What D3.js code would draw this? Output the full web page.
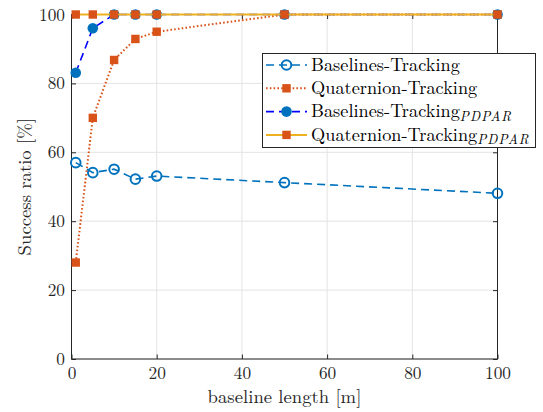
<!DOCTYPE html>
<html>
<head>
<meta charset="utf-8">
<script src="https://cdn.jsdelivr.net/npm/d3@7"></script>
<style>
  html, body { margin: 0; padding: 0; background: #fff; }
</style>
</head>
<body>
<div id="chart"></div>
<script>
// data
const baselineLen = [1, 5, 10, 15, 20, 50, 100];
const baselinesTracking = [57, 54.1, 55.1, 52.2, 53.1, 51.2, 48.1];
const quaternionTracking = [28, 70, 86.8, 92.9, 95, 100, 100];
const baselinesPdpar = [83.1, 96, 100, 100, 100, 100, 100];
const quaternionPdpar = [100, 100, 100, 100, 100, 100, 100];
const xTicks = [0, 20, 40, 60, 80, 100];
const yTicks = [0, 20, 40, 60, 80, 100];
const legendNames = ["Baselines-Tracking", "Quaternion-Tracking", "Baselines-Tracking", "Quaternion-Tracking"];
const legendSubs = ["", "", "PDPAR", "PDPAR"];

const width = 543;
const height = 412;
const plot = { left: 71.5, right: 497.5, top: 14.5, bottom: 359 };
const axisColor = "#262626";
const font = '"Latin Modern Roman", "Liberation Serif", serif';

const svg = d3
  .select("#chart")
  .append("svg")
  .attr("width", width)
  .attr("height", height);

const x = d3.scaleLinear().domain([0, 100]).range([plot.left, plot.right]);
const y = d3.scaleLinear().domain([0, 100]).range([plot.bottom, plot.top]);

// grid
svg.append("g")
  .selectAll("line")
  .data(xTicks)
  .enter()
  .append("line")
  .attr("x1", (d) => x(d)).attr("x2", (d) => x(d))
  .attr("y1", plot.top).attr("y2", plot.bottom)
  .attr("stroke", "#e3e3e3");

svg.append("g")
  .selectAll("line")
  .data(yTicks)
  .enter()
  .append("line")
  .attr("x1", plot.left).attr("x2", plot.right)
  .attr("y1", (d) => y(d)).attr("y2", (d) => y(d))
  .attr("stroke", "#e3e3e3");

// axes, ticks point inward
const styleAxis = (g) => {
  g.select(".domain").remove();
  g.selectAll(".tick line").attr("stroke", axisColor);
  g.selectAll(".tick text")
    .style("font-family", font)
    .style("font-size", "17.3px")
    .attr("fill", axisColor);
};

svg.append("g")
  .attr("transform", `translate(0,${plot.bottom})`)
  .call(d3.axisBottom(x).tickValues(xTicks).tickSize(-4.5).tickPadding(8))
  .call(styleAxis)
  .selectAll(".tick text")
  .attr("dy", "0.71em");

svg.append("g")
  .attr("transform", `translate(${plot.left},0)`)
  .call(d3.axisLeft(y).tickValues(yTicks).tickSize(-4.5).tickPadding(6.5))
  .call(styleAxis);

svg.append("g")
  .attr("transform", `translate(0,${plot.top})`)
  .call(d3.axisTop(x).tickValues(xTicks).tickSize(-4.5).tickFormat(""))
  .call(styleAxis);

svg.append("g")
  .attr("transform", `translate(${plot.right},0)`)
  .call(d3.axisRight(y).tickValues(yTicks).tickSize(-4.5).tickFormat(""))
  .call(styleAxis);

// box
svg.append("rect")
  .attr("x", plot.left).attr("y", plot.top)
  .attr("width", plot.right - plot.left).attr("height", plot.bottom - plot.top)
  .attr("fill", "none")
  .attr("stroke", axisColor)
  .attr("stroke-width", 1);

// labels
svg.append("text")
  .attr("x", (plot.left + plot.right) / 2)
  .attr("y", 403)
  .attr("text-anchor", "middle")
  .attr("fill", axisColor)
  .style("font-family", font)
  .style("font-size", "18.7px")
  .text("baseline length [m]");

svg.append("text")
  .attr("transform", `translate(31,${(plot.top + plot.bottom) / 2}) rotate(-90)`)
  .attr("text-anchor", "middle")
  .attr("fill", axisColor)
  .style("font-family", font)
  .style("font-size", "18.7px")
  .text("Success ratio [%]");

// series
const series = [
  { values: baselinesTracking, line: "#0072BD", dash: "8,5", width: 1.6, marker: "open" },
  { values: quaternionTracking, line: "#D95319", dash: "1.6,2.2", width: 2, marker: "square" },
  { values: baselinesPdpar, line: "#0000FF", dash: "8,5", width: 1.6, marker: "dot" },
  { values: quaternionPdpar, line: "#EDB120", dash: null, width: 2, marker: "square" },
];

const line = d3.line()
  .x((d) => x(d[0]))
  .y((d) => y(d[1]));

function drawMarker(g, type, cx, cy) {
  if (type === "open") {
    g.append("circle")
      .attr("cx", cx).attr("cy", cy).attr("r", 4.8)
      .attr("fill", "none")
      .attr("stroke", "#0072BD")
      .attr("stroke-width", 2);
  } else if (type === "dot") {
    g.append("circle")
      .attr("cx", cx).attr("cy", cy).attr("r", 5.3)
      .attr("fill", "#0072BD");
  } else {
    g.append("rect")
      .attr("x", cx - 4.2).attr("y", cy - 4.2)
      .attr("width", 8.4).attr("height", 8.4)
      .attr("fill", "#D95319");
  }
}

series.forEach((s) => {
  const pts = baselineLen.map((b, i) => [b, s.values[i]]);
  const g = svg.append("g");

  g.append("path")
    .attr("d", line(pts))
    .attr("fill", "none")
    .attr("stroke", s.line)
    .attr("stroke-width", s.width)
    .attr("stroke-dasharray", s.dash);

  pts.forEach((p) => drawMarker(g, s.marker, x(p[0]), y(p[1])));
});

// legend
const legend = svg.append("g");

legend.append("rect")
  .attr("x", 262.5).attr("y", 53.5)
  .attr("width", 273).attr("height", 94)
  .attr("fill", "#fff")
  .attr("stroke", axisColor)
  .attr("stroke-width", 1);

series.forEach((s, i) => {
  const cy = 65 + i * 23.3;

  legend.append("line")
    .attr("x1", 266).attr("x2", 307)
    .attr("y1", cy).attr("y2", cy)
    .attr("stroke", s.line)
    .attr("stroke-width", s.width)
    .attr("stroke-dasharray", s.dash);

  drawMarker(legend, s.marker, 286.5, cy);

  const t = legend.append("text")
    .attr("x", 311)
    .attr("y", cy + 5.7)
    .attr("fill", "#000")
    .style("font-family", font)
    .style("font-size", "18.3px");

  t.append("tspan").text(legendNames[i]);

  if (legendSubs[i]) {
    t.append("tspan")
      .attr("dy", 3.5)
      .style("font-size", "13.5px")
      .style("font-style", "italic")
      .style("letter-spacing", "1px")
      .text(legendSubs[i]);
  }
});
</script>
</body>
</html>
